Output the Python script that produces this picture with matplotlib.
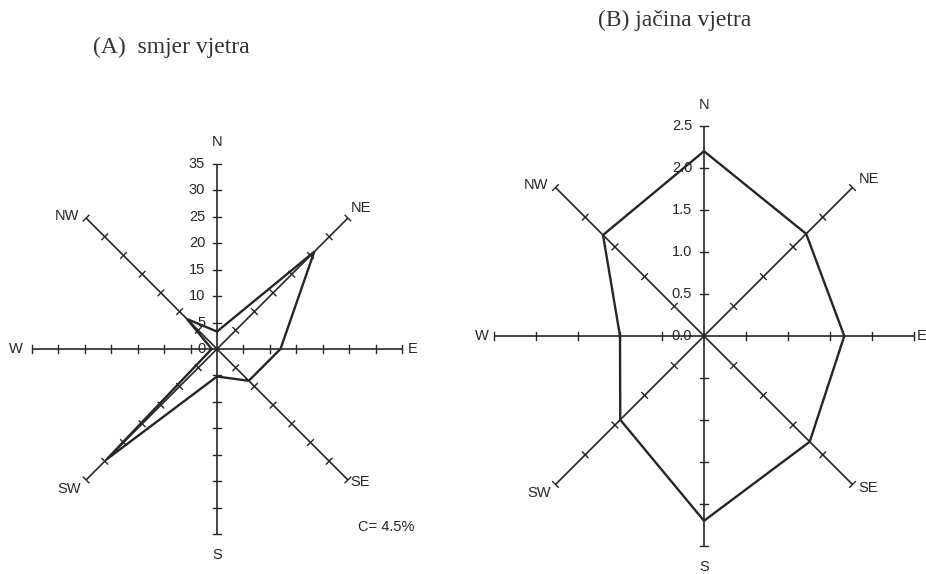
import matplotlib.pyplot as plt
import numpy as np

# compass directions, counter-clockwise angle from east (degrees)
directions = ["N", "NE", "E", "SE", "S", "SW", "W", "NW"]
angles_deg = [90, 45, 0, -45, -90, -135, 180, 135]

# (A) smjer vjetra - frequency of wind direction (%)
freq_pct = [3.3, 26.0, 12.0, 8.5, 5.2, 29.5, 1.0, 8.0]
freq_ticks = [0, 5, 10, 15, 20, 25, 30, 35]
calm_pct = 4.5

# (B) jacina vjetra - mean wind strength
strength = [2.2, 1.72, 1.67, 1.78, 2.2, 1.41, 1.0, 1.7]
strength_ticks = [0.0, 0.5, 1.0, 1.5, 2.0, 2.5]

W_PX, H_PX = 926, 574
INK = "#262626"
SANS = "Liberation Sans"
SERIF = "Liberation Serif"
FS = 10.5

# label offsets in pixels from the end of each axis: (dx, dy, ha)
label_off_a = {"N": (0, 22, "center"), "NE": (3, 10, "left"), "E": (6, 0, "left"),
               "SE": (2, -2, "left"), "S": (0, -21, "center"), "SW": (-5, -9, "right"),
               "W": (-9, 0, "right"), "NW": (-7, 2, "right")}
label_off_b = {"N": (0, 21, "center"), "NE": (6, 9, "left"), "E": (3, 0, "left"),
               "SE": (6, -4, "left"), "S": (0, -21, "center"), "SW": (-5, -9, "right"),
               "W": (-5, 0, "right"), "NW": (-7, 3, "right")}


def make_axes(fig, x0, w, cx, cy, scale):
    """Axes covering pixel columns x0..x0+w with origin at pixel (cx, cy)."""
    ax = fig.add_axes([x0 / W_PX, 0, w / W_PX, 1])
    ax.set_xlim((x0 - cx) / scale, (x0 + w - cx) / scale)
    ax.set_ylim(-(H_PX - cy) / scale, cy / scale)
    ax.axis("off")
    return ax


def draw_rose(ax, values, ticks, scale, fmt, offsets):
    rmax = ticks[-1]
    half = 4.0 / scale
    th = np.radians(angles_deg)
    for d, a in zip(directions, th):
        ux, uy = np.cos(a), np.sin(a)
        ax.plot([0, rmax * ux], [0, rmax * uy], color=INK, lw=1.2, solid_capstyle="butt")
        for t in ticks[1:]:
            px, py = t * ux, t * uy
            ax.plot([px - half * uy, px + half * uy], [py + half * ux, py - half * ux],
                    color=INK, lw=1.0)
        dx, dy, ha = offsets[d]
        ax.annotate(d, (rmax * ux, rmax * uy), xytext=(dx * 0.72, dy * 0.72),
                    textcoords="offset points", ha=ha, va="center",
                    fontsize=FS, family=SANS, color=INK)
    # tick labels along the north axis
    for t in ticks:
        ax.annotate(fmt(t), (0, t), xytext=(-8.5, 0), textcoords="offset points",
                    ha="right", va="center", fontsize=FS, family=SANS, color=INK)
    vals = np.array(values)
    xs = np.append(vals * np.cos(th), vals[0] * np.cos(th[0]))
    ys = np.append(vals * np.sin(th), vals[0] * np.sin(th[0]))
    ax.plot(xs, ys, color=INK, lw=1.7, solid_joinstyle="miter")


fig = plt.figure(figsize=(W_PX / 100, H_PX / 100), dpi=100)
fig.patch.set_facecolor("white")

ax_a = make_axes(fig, 0, 463, 217, 349, 5.29)
draw_rose(ax_a, freq_pct, freq_ticks, 5.29, lambda t: f"{t:d}", label_off_a)

ax_b = make_axes(fig, 463, 463, 704, 336, 84.0)
draw_rose(ax_b, strength, strength_ticks, 84.0, lambda t: f"{t:.1f}", label_off_b)

fig.text(358 / W_PX, 1 - 527 / H_PX, f"C= {calm_pct}%", ha="left", va="center",
         fontsize=FS, family=SANS, color=INK)
fig.text(93 / W_PX, 1 - 47 / H_PX, "(A)  smjer vjetra", ha="left", va="center",
         fontsize=17, family=SERIF, color="#333333")
fig.text(598 / W_PX, 1 - 20 / H_PX, "(B) jačina vjetra", ha="left", va="center",
         fontsize=17, family=SERIF, color="#333333")

fig.savefig("out.png", dpi=100, facecolor="white")
